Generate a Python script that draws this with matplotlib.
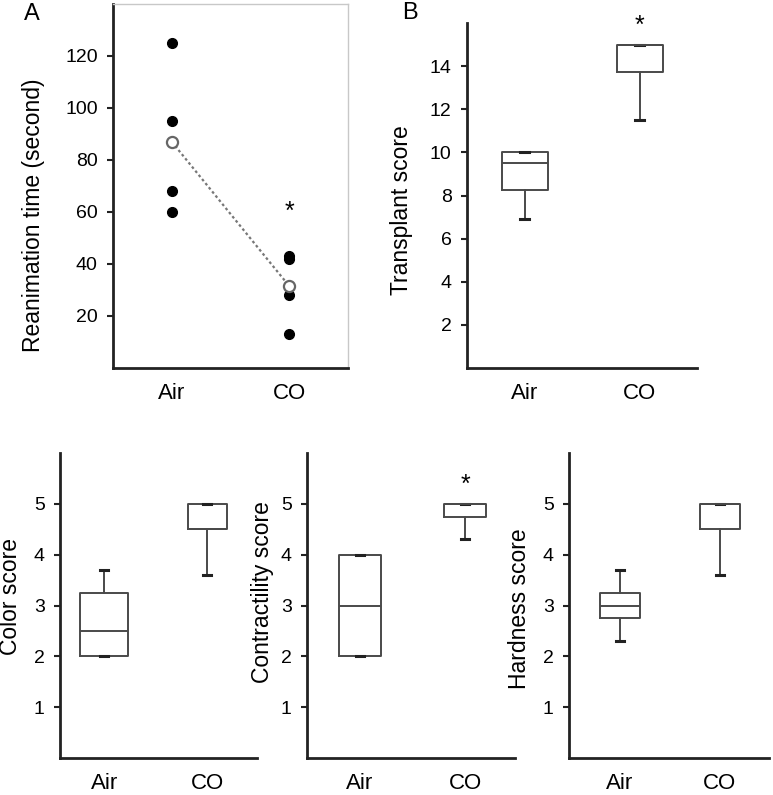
import matplotlib
matplotlib.use("Agg")
import matplotlib.pyplot as plt

plt.rcParams['font.family'] = ['Liberation Sans', 'DejaVu Sans']

groups = ["Air", "CO"]

# Panel A: reanimation time (individual points)
reanim_air = [125, 95, 68, 60]
reanim_co = [43, 42, 28, 13]
reanim_mean = [87, 31.5]

# Box statistics: whislo, q1, med, q3, whishi
transplant_air = [6.9, 8.25, 9.5, 10.0, 10.0]
transplant_co = [11.5, 13.75, 15.0, 15.0, 15.0]
color_air = [2.0, 2.0, 2.5, 3.25, 3.7]
color_co = [3.6, 4.5, 4.5, 5.0, 5.0]
contract_air = [2.0, 2.0, 3.0, 4.0, 4.0]
contract_co = [4.3, 4.75, 5.0, 5.0, 5.0]
hard_air = [2.3, 2.75, 3.0, 3.25, 3.7]
hard_co = [3.6, 4.5, 5.0, 5.0, 5.0]

transplant_ticks = [2, 4, 6, 8, 10, 12, 14]
score_ticks = [1, 2, 3, 4, 5]
reanim_ticks = [20, 40, 60, 80, 100, 120]

W, H = 773, 795
fig = plt.figure(figsize=(W / 100, H / 100), dpi=100)


def add_ax(l, r, t, b):
    return fig.add_axes([l / W, 1 - b / H, (r - l) / W, (b - t) / H])


BOXC = '#4a4a4a'
TICKFS = 14
LABFS = 16.5


def style(ax, yticks, ylim, xlim, ylabel, lab_xy, frame=False):
    ax.set_ylim(*ylim)
    ax.set_xlim(*xlim)
    ax.set_yticks(yticks)
    ax.set_xticks([1, 2])
    ax.set_xticklabels(groups, fontsize=16)
    ax.tick_params(axis='x', length=0, pad=11)
    ax.tick_params(axis='y', length=4, width=1.5, pad=7, labelsize=TICKFS, color='#222222')
    for s in ['left', 'bottom']:
        ax.spines[s].set_linewidth(2)
        ax.spines[s].set_color('#222222')
    if frame:
        for s in ['top', 'right']:
            ax.spines[s].set_linewidth(1)
            ax.spines[s].set_color('#c8c8c8')
    else:
        ax.spines['top'].set_visible(False)
        ax.spines['right'].set_visible(False)
    ax.set_ylabel(ylabel, fontsize=LABFS)
    ax.yaxis.set_label_coords(*lab_xy)
    ax.yaxis.label.set_verticalalignment('center')


def boxes(ax, air, co, widths=(0.4, 0.4)):
    stats = []
    for vals, name in [(air, "Air"), (co, "CO")]:
        stats.append(dict(whislo=vals[0], q1=vals[1], med=vals[2], q3=vals[3],
                          whishi=vals[4], label=name))
    ax.bxp(stats, positions=[1, 2], widths=list(widths), showfliers=False,
           capwidths=[0.08, 0.08],
           boxprops=dict(color=BOXC, linewidth=1.4),
           medianprops=dict(color=BOXC, linewidth=1.4),
           whiskerprops=dict(color=BOXC, linewidth=1.4),
           capprops=dict(color='#222222', linewidth=2.2))
    ax.set_xticks([1, 2])
    ax.set_xticklabels(groups)


# Panel A
axA = add_ax(113, 348, 4, 368)
axA.plot([1] * len(reanim_air), reanim_air, 'o', color='black', ms=7, zorder=3)
axA.plot([2] * len(reanim_co), reanim_co, 'o', color='black', ms=7, zorder=3)
axA.plot([1, 2], reanim_mean, linestyle=(0, (1.2, 1.2)), color='#777777', lw=1.6, zorder=2)
axA.plot([1, 2], reanim_mean, 'o', mfc='white', mec='#666666', mew=1.6, ms=8, zorder=4)
style(axA, reanim_ticks, (0, 140), (0.5, 2.5), "Reanimation time (second)", (-0.34, 0.42), frame=True)
axA.text(2, 60, "*", ha='center', va='center', fontsize=18)
fig.text(32 / W, 1 - 14 / H, "A", ha='center', va='center', fontsize=17)

# Panel B
axB = add_ax(467, 697, 23, 368)
boxes(axB, transplant_air, transplant_co)
style(axB, transplant_ticks, (0, 16), (0.5, 2.5), "Transplant score", (-0.283, 0.458))
axB.text(2, 15.85, "*", ha='center', va='center', fontsize=18)
fig.text(410 / W, 1 - 13 / H, "B", ha='center', va='center', fontsize=17)

# Color
axC = add_ax(60, 257, 453, 758)
boxes(axC, color_air, color_co, widths=(0.47, 0.38))
style(axC, score_ticks, (0, 6), (0.57, 2.485), "Color score", (-0.25, 0.531))

# Contractility
axD = add_ax(307, 515, 453, 758)
boxes(axD, contract_air, contract_co)
style(axD, score_ticks, (0, 6), (0.495, 2.476), "Contractility score", (-0.216, 0.544))
axD.text(2, 5.37, "*", ha='center', va='center', fontsize=18)

# Hardness
axE = add_ax(569, 769, 453, 758)
boxes(axE, hard_air, hard_co)
style(axE, score_ticks, (0, 6), (0.49, 2.49), "Hardness score", (-0.245, 0.489))

fig.savefig("out.png", dpi=100)
